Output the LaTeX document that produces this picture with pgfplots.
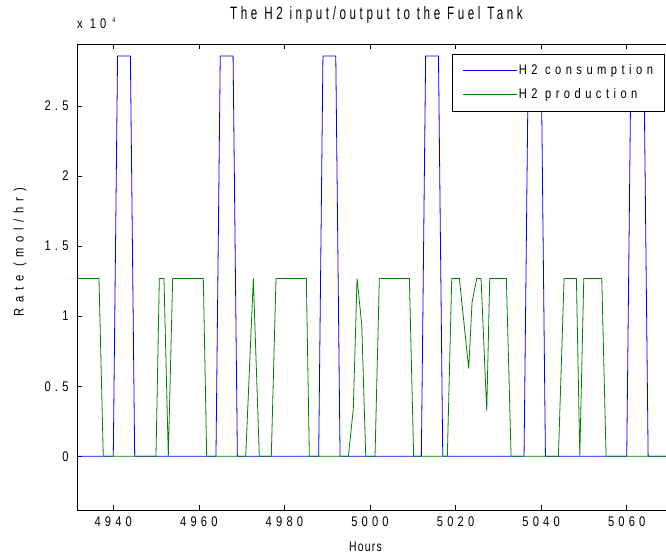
\documentclass[border=0pt]{standalone}
\usepackage{pgfplots}
\pgfplotsset{compat=1.18}
\usepackage{fontspec}
\setmainfont{Liberation Sans}[FakeStretch=0.8,LetterSpace=25]
\newfontfamily\fticks{Liberation Sans}[FakeStretch=0.8,LetterSpace=30]
\newfontfamily\ftitle{Liberation Sans}[FakeStretch=0.65,LetterSpace=20]
\newfontfamily\fylab{Liberation Sans}[FakeStretch=0.8,LetterSpace=41]
\newfontfamily\fleg{Liberation Sans}[FakeStretch=0.8,LetterSpace=32]
\newfontfamily\fxlab{Liberation Sans}[FakeStretch=0.75,LetterSpace=9]
\definecolor{mblue}{rgb}{0,0,1}
\definecolor{mgreen}{rgb}{0,0.5,0}
\begin{document}
\begin{tikzpicture}
\begin{axis}[
  scale only axis, width=596.8bp, height=466bp,
  xmin=4931.52, xmax=5071, ymin=-3850, ymax=29400,
  clip=false,
  xtick={4940,4960,4980,5000,5020,5040,5060},
  xticklabels={4940,4960,4980,5000,5020,5040,5060},
  ytick={0,5000,10000,15000,20000,25000},
  yticklabels={0,0.5,1,1.5,2,2.5},
  scaled y ticks=false,
  tick align=inside, major tick length=5bp, ytick pos=left, xtick pos=both,
  tick style={black, line width=0.6bp},
  axis line style={black, line width=0.8bp},
  ticklabel style={font=\fticks\fontsize{14}{16}\selectfont},
  xticklabel style={yshift=-3bp},
  yticklabel style={xshift=-5bp},
  title={The H2 input/output to the Fuel Tank},
  title style={at={(rel axis cs:0.5018,1.0506)}, anchor=center, font=\ftitle\fontsize{18}{20}\selectfont},
  xlabel={Hours},
  every axis x label/.style={at={(rel axis cs:0.4834,-0.0781)}, anchor=center, font=\fxlab\fontsize{14}{16}\selectfont},
  ylabel={Rate (mol/hr)},
  every axis y label/.style={at={(rel axis cs:-0.0955,0.554)}, rotate=90, anchor=center, font=\fylab\fontsize{14}{16}\selectfont},
  legend style={at={(rel axis cs:0.6289,0.9792)}, anchor=north west, draw=black, line width=1bp, fill=white,
    font=\fleg\fontsize{14}{16}\selectfont, inner xsep=10bp, inner ysep=9bp, row sep=9bp,
    nodes={inner sep=1bp, text height=10bp, text depth=3bp}},
  legend cell align=left,
  legend image code/.code={\draw[#1, line width=1bp] (0bp,0bp) -- (54bp,0bp);},
]
\addplot[mblue, line width=0.8bp] coordinates {
(4931.52,0) (4940,0) (4941,28560) (4944,28560) (4945,0)
(4964,0) (4965,28560) (4968,28560) (4969,0)
(4988,0) (4989,28560) (4992,28560) (4993,0)
(5012,0) (5013,28560) (5016,28560) (5017,0)
(5036,0) (5037,28560) (5040,28560) (5041,0)
(5060,0) (5061,28560) (5064,28560) (5065,0) (5071,0)
};
\addlegendentry{H2 consumption}
\addplot[mgreen, line width=0.8bp] coordinates {
(4931.52,12690) (4936.66,12690) (4937.66,0) (4949.98,0) (4950.76,12690) (4951.85,12690)
(4952.86,0) (4953.88,12690) (4961.04,12690) (4961.83,0) (4970.95,0) (4972.73,12690)
(4974.13,0) (4976.93,0) (4978.03,12690) (4985.12,12690) (4985.82,0) (4994.94,0)
(4996.1,3400) (4996.97,12690) (4998.07,9400) (4999.0,0) (5001.17,0) (5002.18,12690)
(5009.2,12690) (5010.2,0) (5018.07,0) (5019.1,12690) (5020.88,12690) (5023.07,6260)
(5023.85,11000) (5024.95,12690) (5025.95,12690) (5027.28,3240) (5027.98,12690)
(5031.87,12690) (5032.97,0) (5044.03,0) (5045.36,12690) (5048.24,12690) (5049.03,0)
(5049.96,12690) (5054.17,12690) (5055.17,0) (5071,0)
};
\addlegendentry{H2 production}
\node[anchor=base west, inner sep=0pt, font=\fticks\fontsize{14}{16}\selectfont] at ([yshift=15.6bp]rel axis cs:0,1) {x\hspace{7bp}10\hspace{6bp}\raisebox{6.5bp}{\fontsize{7}{7}\selectfont 4}};
\end{axis}
\pgfresetboundingbox
\path[use as bounding box] (-77bp,-43.7bp) rectangle (589bp,510.3bp);
\end{tikzpicture}
\end{document}
